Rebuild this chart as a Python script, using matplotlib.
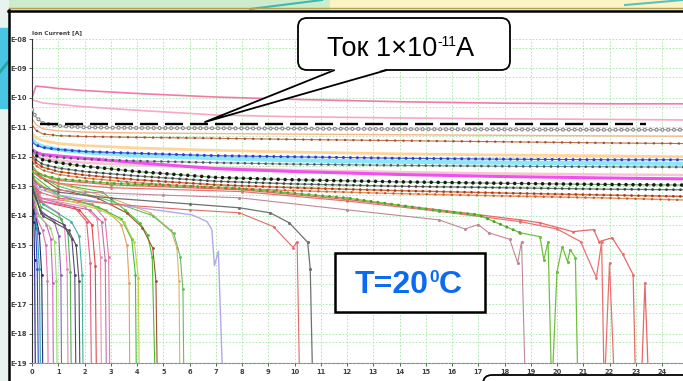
import matplotlib
matplotlib.use('Agg')
import matplotlib.pyplot as plt
from matplotlib.patches import Rectangle, FancyBboxPatch, Polygon
from matplotlib.lines import Line2D
from matplotlib.transforms import Affine2D
import numpy as np

plt.rcParams['lines.scale_dashes'] = False
plt.rcParams['font.family'] = ['Liberation Sans', 'DejaVu Sans']

# ---- data (exponents of the ion current, i.e. log10 I[A]) ----
t_flat = [0, 0.15, 0.4, 1, 2, 4, 7, 10, 14, 18, 22, 25]

pink_top = [-10.0, -9.6, -9.62, -9.68, -9.75, -9.85, -9.97, -10.05, -10.13, -10.18, -10.2, -10.2]
pink_low = [-10.07, -10.1, -10.17, -10.22, -10.3, -10.42, -10.58, -10.64, -10.68, -10.71, -10.73, -10.75]
gray_ring = [-10.4, -10.65, -10.85, -10.95, -11.0, -11.02, -11.03, -11.04, -11.06, -11.07, -11.08, -11.08]
peach = [-10.7, -10.9, -11.05, -11.12, -11.16, -11.19, -11.21, -11.23, -11.25, -11.27, -11.29, -11.3]
brown = [-10.9, -11.1, -11.22, -11.28, -11.31, -11.34, -11.37, -11.41, -11.45, -11.49, -11.53, -11.55]
light_orange = [-11.2, -11.35, -11.45, -11.55, -11.62, -11.7, -11.78, -11.84, -11.9, -11.94, -11.97, -12.0]
blue = [-11.5, -11.6, -11.68, -11.75, -11.82, -11.88, -11.96, -12.0, -12.05, -12.08, -12.1, -12.1]
cyan = [-11.4, -11.55, -11.65, -11.75, -11.85, -11.95, -12.05, -12.12, -12.17, -12.2, -12.22, -12.24]
dark_dots = [-11.7, -11.85, -11.95, -12.02, -12.08, -12.14, -12.2, -12.25, -12.29, -12.32, -12.34, -12.35]
light_pink = [-11.8, -11.95, -12.05, -12.12, -12.2, -12.28, -12.37, -12.45, -12.52, -12.57, -12.6, -12.62]
magenta = [-11.75, -11.85, -11.92, -11.97, -12.05, -12.2, -12.4, -12.5, -12.6, -12.67, -12.72, -12.75]
black_dots = [-11.8, -11.95, -12.1, -12.2, -12.32, -12.5, -12.7, -12.78, -12.85, -12.9, -12.94, -12.96]
dark_gray = [-11.9, -12.1, -12.25, -12.38, -12.5, -12.65, -12.83, -12.92, -13.0, -13.05, -13.1, -13.12]
rust = [-12.0, -12.2, -12.35, -12.5, -12.62, -12.78, -12.95, -13.05, -13.15, -13.23, -13.3, -13.35]
rust2 = [-12.1, -12.3, -12.45, -12.6, -12.72, -12.88, -13.05, -13.15, -13.25, -13.33, -13.4, -13.47]

level_1e11 = -10.9
level_t = [0.3, 23.4]

green_t = [0, 0.3, 1, 3, 6, 8, 12, 15.5, 17, 18.6, 19.35, 19.5, 19.66, 19.8, 20.0, 20.2, 20.4, 20.5, 20.7, 20.8]
green_e = [-12.5, -12.6, -12.75, -12.9, -13.0, -13.08, -13.4, -13.83, -13.97, -14.58, -14.71, -15.5, -14.88, -20,
           -15.9, -15.05, -15.56, -15.15, -15.42, -20]
redA_t = [0, 0.3, 1, 3, 8, 12, 15.5, 18.6, 19.35, 20.6, 21.4, 21.6, 22.1, 22.5, 22.9, 23.0, 23.2, 23.35, 23.5]
redA_e = [-12.4, -12.6, -12.8, -12.95, -13.12, -13.45, -13.8, -14.14, -14.24, -14.54, -14.47, -14.88, -14.75,
          -15.3, -16.0, -20, -20, -16.27, -20]
redB_t = [0, 0.3, 1, 3, 8, 12, 15.5, 18.6, 20.0, 20.9, 21.5, 21.7, 21.8, 22.0, 22.2]
redB_e = [-12.5, -12.7, -12.9, -13.05, -13.18, -13.5, -13.85, -14.2, -14.45, -14.88, -16.1, -14.9, -20, -15.6, -20]
mauve_t = [0, 0.5, 2, 5, 7.9, 12, 15.5, 16.5, 17.0, 17.4, 18.2, 18.5, 18.65, 18.8]
mauve_e = [-12.8, -13.1, -13.2, -13.3, -13.39, -13.8, -14.14, -14.45, -14.3, -14.58, -14.8, -15.6, -14.88, -20]
gray_t = [0, 0.3, 1, 3, 6, 7.9, 9.07, 9.8, 10.5, 10.6, 10.7]
gray_e = [-12.7, -13.0, -13.2, -13.4, -13.6, -13.73, -13.9, -14.24, -14.9, -15.8, -20]
red_t = [0, 0.3, 1, 3, 6, 7.9, 9.2, 9.95, 10.1, 10.2]
red_e = [-12.9, -13.2, -13.4, -13.6, -13.8, -13.9, -14.37, -15.08, -14.88, -20]
lavender_t = [0, 0.3, 1, 3, 6.1, 6.67, 6.85, 6.95, 7.1, 7.28]
lavender_e = [-12.9, -13.1, -13.3, -13.6, -13.97, -14.2, -14.47, -15.7, -15.2, -20]

crash_t = [
    [0, 0.03, 0.07, 0.1, 0.13],
    [0, 0.06, 0.14, 0.2, 0.25],
    [0, 0.08, 0.2, 0.28, 0.33],
    [0, 0.12, 0.28, 0.37, 0.42],
    [0, 0.15, 0.4, 0.53, 0.59, 0.62],
    [0, 0.2, 0.55, 0.72, 0.79, 0.82],
    [0, 0.25, 0.7, 0.86, 0.93, 0.96],
    [0, 0.3, 0.85, 1.02, 1.1, 1.13],
    [0, 0.3, 1.0, 1.24, 1.34, 1.38],
    [0, 0.35, 1.1, 1.37, 1.46, 1.5],
    [0, 0.35, 1.2, 1.52, 1.63, 1.68],
    [0, 0.4, 1.4, 1.68, 1.79, 1.83],
    [0, 0.4, 1.5, 1.8, 1.91, 1.95],
    [0, 0.3, 1.6, 2.08, 2.22, 2.27],
    [0, 0.3, 1.8, 2.28, 2.41, 2.46],
    [0, 0.3, 2.0, 2.48, 2.61, 2.65],
    [0, 0.35, 2.2, 2.65, 2.79, 2.84],
    [0, 0.35, 2.3, 2.78, 2.92, 2.97],
    [0, 1.0, 2.8, 3.4, 3.62, 3.7, 3.73],
    [0, 1.0, 2.5, 3.4, 3.8, 3.94, 3.98],
    [0, 1.0, 2.6, 3.5, 3.9, 4.05, 4.09],
    [0, 0.5, 1.5, 2.67, 3.54, 4.1, 4.4, 4.58, 4.7],
    [0, 1.0, 2.5, 3.6, 4.2, 4.6, 4.72, 4.78],
    [0, 1.0, 3.0, 4.5, 5.3, 5.52, 5.6, 5.64],
    [0, 1.0, 3.0, 4.6, 5.4, 5.65, 5.75, 5.79],
]
crash_e = [
    [-12.2, -13.2, -14.2, -15.5, -20],
    [-12.4, -13.4, -14.4, -15.8, -20],
    [-12.6, -13.7, -14.5, -15.8, -20],
    [-12.8, -13.9, -14.6, -16.0, -20],
    [-13.0, -14.0, -14.5, -15.0, -16.2, -20],
    [-12.9, -13.9, -14.3, -14.8, -16.3, -20],
    [-13.0, -14.0, -14.4, -14.9, -16.2, -20],
    [-12.8, -13.8, -14.2, -14.7, -16.0, -20],
    [-12.7, -13.5, -13.9, -14.4, -15.8, -20],
    [-12.9, -13.7, -14.1, -14.6, -15.9, -20],
    [-13.0, -13.9, -14.3, -14.8, -16.0, -20],
    [-13.1, -14.0, -14.5, -15.0, -16.2, -20],
    [-12.8, -13.6, -14.2, -14.7, -16.0, -20],
    [-12.6, -13.4, -13.7, -14.2, -15.6, -20],
    [-12.7, -13.5, -13.8, -14.3, -15.7, -20],
    [-12.6, -13.4, -13.7, -14.1, -15.4, -20],
    [-12.7, -13.5, -13.8, -14.2, -15.5, -20],
    [-12.5, -13.4, -13.6, -14.1, -15.4, -20],
    [-12.8, -13.3, -13.8, -14.3, -15.0, -16.3, -20],
    [-12.6, -13.3, -13.7, -14.1, -14.8, -16.0, -20],
    [-12.7, -13.4, -13.8, -14.2, -14.9, -16.1, -20],
    [-12.3, -12.8, -13.0, -13.19, -13.8, -14.24, -14.64, -15.4, -20],
    [-12.5, -13.1, -13.4, -13.9, -14.4, -15.1, -16.2, -20],
    [-12.4, -12.9, -13.4, -13.9, -14.5, -15.1, -16.2, -20],
    [-12.5, -13.0, -13.5, -14.0, -14.6, -15.4, -16.5, -20],
]
crash_colors = ['#1c1c88', '#3046c8', '#20a8b0', '#2c2c70', '#e070b0', '#d060c8', '#98d868', '#9060c0',
                '#f080c0', '#50b050', '#604080', '#505050', '#40b0a0', '#e06080', '#e04848', '#f090b0',
                '#c070b0', '#e878a8', '#e0a060', '#40c040', '#c0d040', '#48c030', '#a05030', '#e0b070',
                '#60c060']

y_exponents = list(range(8, 20))
x_ticks = list(range(0, 25))

# ---- figure ----
W, H = 683, 381
fig = plt.figure(figsize=(W / 100, H / 100), dpi=100)
fig.patch.set_facecolor('white')
px = Affine2D().scale(1 / W, -1 / H).translate(0, 1) + fig.transFigure

# slide background bits around the panel
fig.add_artist(Rectangle((0, 0), 330, 9, transform=px, color='#cdeccb', zorder=0))
fig.add_artist(Rectangle((330, 0), W - 330, 9, transform=px, color='#fbf5c6', zorder=0))
fig.add_artist(Rectangle((0, 0), 8, H, transform=px, color='#e8f3ef', zorder=0))
fig.add_artist(Rectangle((0, 28), 8, 80, transform=px, color='#48c4e4', zorder=0))
fig.add_artist(Line2D([250, 322], [9, 0], transform=px, color='#40b8b0', lw=1.5, zorder=1))
fig.add_artist(Line2D([625, 683], [5, 0], transform=px, color='#60c0c0', lw=1.5, zorder=1))
fig.add_artist(Line2D([0, 8], [72, 62], transform=px, color='#2aa0a0', lw=2, zorder=1))
fig.add_artist(Line2D([9, W], [8, 8], transform=px, color='#b0a050', lw=1, zorder=1))
fig.add_artist(Line2D([8, W], [10.5, 10.5], transform=px, color='black', lw=1.8, zorder=1))
fig.add_artist(Line2D([9, 9], [10, H], transform=px, color='black', lw=1.8, zorder=1))

ax = fig.add_axes([32 / W, 18 / H, (W - 32) / W, 324 / H])
ax.set_yscale('log')
ax.set_xlim(0, 24.8)
ax.set_ylim(1e-19, 1e-8)


def curve(t, e, color, lw=0.8, marker=None, ms=2, z=2):
    ax.plot(t, 10.0 ** np.asarray(e, dtype=float), color=color, lw=lw, marker=marker, ms=ms, zorder=z)


def beads(t, e, color, size=2.2, gap=5.0, z=3):
    ax.plot(t, 10.0 ** np.asarray(e, dtype=float), color=color, lw=size,
            linestyle=(0, (0.01, gap)), dash_capstyle='round', zorder=z)


# fast-decaying runs
for t, e, c in zip(crash_t, crash_e, crash_colors):
    curve(t, e, c, lw=0.8, marker='.', ms=2)

curve(lavender_t, lavender_e, '#b4a8e8', lw=1.0)
curve(red_t, red_e, '#e06a6a', lw=0.8, marker='.', ms=2)
curve(gray_t, gray_e, '#707070', lw=0.9, marker='.', ms=2.5)
curve(mauve_t, mauve_e, '#c08898', lw=0.8, marker='.', ms=2.5)
curve(redB_t, redB_e, '#ec7070', lw=0.9, marker='.', ms=2)
curve(redA_t, redA_e, '#e86868', lw=0.9, marker='.', ms=2)
curve(green_t, green_e, '#70c040', lw=0.9, marker='.', ms=2.5)
beads(green_t[:10], green_e[:10], '#50a030', size=2.2, gap=5)

# long-lived runs
curve(t_flat, pink_top, '#f27aaa', lw=1.2)
curve(t_flat, pink_low, '#f6a8c6', lw=1.2)
curve(t_flat, peach, '#f8b48a', lw=1.0)
curve(t_flat, brown, '#c07050', lw=0.8)
beads(t_flat, brown, '#a05030', size=1.8, gap=6)
curve(t_flat, light_orange, '#ffd49a', lw=2.0)
curve(t_flat, cyan, '#8ce8f6', lw=3.0)
curve(t_flat, blue, '#4060e0', lw=0.8)
beads(t_flat, blue, '#2840d0', size=2.2, gap=5)
curve(t_flat, dark_dots, '#8090a0', lw=0.8)
beads(t_flat, dark_dots, '#505860', size=2.0, gap=5)
curve(t_flat, light_pink, '#f8c4d4', lw=1.8)
curve(t_flat, magenta, '#f050f0', lw=2.2)
curve(t_flat, black_dots, '#60a060', lw=0.8)
beads(t_flat, black_dots, '#181818', size=2.6, gap=5)
curve(t_flat, dark_gray, '#707878', lw=0.9)
beads(t_flat, dark_gray, '#3a4040', size=2.0, gap=5)
curve(t_flat, rust, '#d86a3a', lw=1.0)
beads(t_flat, rust, '#a04020', size=2.0, gap=5)
curve(t_flat, rust2, '#e8905c', lw=1.0)
beads(t_flat, rust2, '#c05a30', size=1.8, gap=6)

curve(t_flat, gray_ring, '#9a9a9a', lw=0.8)
beads(t_flat, gray_ring, '#8a8a8a', size=3.0, gap=4.2, z=3)
beads(t_flat, gray_ring, '#ffffff', size=1.3, gap=4.2, z=4)

# 1e-11 A reference level
ax.plot(level_t, [10.0 ** level_1e11] * 2, color='black', lw=1.7, linestyle=(0, (13, 5)), zorder=6)

# axes styling
ax.set_yticks([10.0 ** -k for k in y_exponents])
ax.set_yticklabels([f'E-{k:02d}' for k in y_exponents])
ax.set_yticks([5 * 10.0 ** -k for k in range(9, 20)], minor=True)
ax.yaxis.set_minor_formatter(plt.NullFormatter())
ax.set_xticks(x_ticks)
ax.set_xticklabels([str(v) for v in x_ticks])
ax.grid(True, which='both', color='#a4e4a4', linestyle=(0, (1.2, 1.2)), lw=0.6)
ax.set_axisbelow(True)
ax.tick_params(axis='both', which='major', length=2, width=0.6, labelsize=4.8, pad=2, colors='#404040')
ax.tick_params(axis='y', which='minor', length=0)
for lab in ax.get_xticklabels() + ax.get_yticklabels():
    lab.set_fontfamily('DejaVu Sans')
    lab.set_fontweight('bold')
for s in ['top', 'right']:
    ax.spines[s].set_visible(False)
ax.spines['left'].set_color('#303030')
ax.spines['left'].set_linewidth(0.8)
ax.spines['bottom'].set_color('#7a9a7a')
ax.spines['bottom'].set_linewidth(0.8)
ax.spines['bottom'].set_linestyle((0, (2, 1)))

fig.text(32 / W, 1 - 34 / H, 'Ion Current [A]', fontsize=4.2, fontweight='bold', family='DejaVu Sans',
         color='#404040', ha='left', va='baseline')

# callout "Ток 1×10^-11 A"
fig.add_artist(FancyBboxPatch((298, 18), 212, 52, boxstyle='round,pad=0,rounding_size=9', transform=px,
                              facecolor='white', edgecolor='black', lw=1.3, zorder=10))
fig.add_artist(Polygon([(334, 69), (205, 122), (386, 69)], closed=True, transform=px,
                       facecolor='white', edgecolor='none', zorder=11))
fig.add_artist(Line2D([334, 205, 386], [70.3, 122, 70.3], transform=px, color='black', lw=1.3, zorder=12))

# box "T=20°C"
fig.add_artist(Rectangle((335, 253), 150, 59, transform=px, facecolor='white', edgecolor='black',
                         lw=1.8, zorder=10))

# lower-right callout, mostly outside the frame
fig.add_artist(FancyBboxPatch((483, 375), 240, 60, boxstyle='round,pad=0,rounding_size=9', transform=px,
                              facecolor='white', edgecolor='black', lw=1.3, zorder=10))

renderer = fig.canvas.get_renderer()


def text_run(pieces, x0):
    x = x0
    for s, size, base, kw in pieces:
        t = fig.text(x / W, 1 - base / H, s, fontsize=size, ha='left', va='baseline', zorder=13, **kw)
        x = t.get_window_extent(renderer).x1


text_run([('Ток 1×10', 19.5, 56, {}), ('-11', 10, 46, {}), ('A', 19.5, 56, {})], 327)
blue_kw = {'color': '#0b6af2', 'fontweight': 'bold'}
text_run([('T=20', 23, 293, blue_kw), ('0', 12.5, 282, blue_kw), ('C', 23, 293, blue_kw)], 355)

fig.savefig('out.png', dpi=100)
